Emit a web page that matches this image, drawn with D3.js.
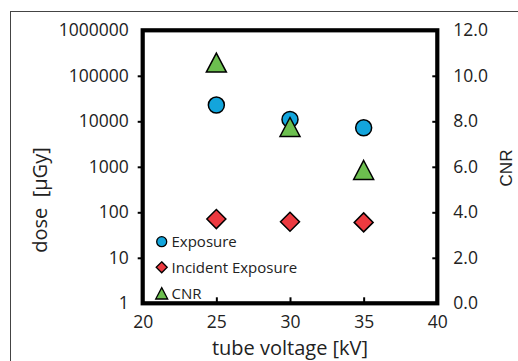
<!DOCTYPE html>
<html><head><meta charset="utf-8">
<script src="https://cdn.jsdelivr.net/npm/d3@7"></script>
<style>
body{margin:0;background:#fff;}
svg{display:block;font-family:"Open Sans",sans-serif;}
</style></head>
<body><svg id="c" width="518" height="361"></svg>
<script>
const voltages = [25, 30, 35];
const exposure = [22800, 11000, 7200];
const incident = [71, 62, 60];
const cnr = [10.58, 7.75, 5.86];
const xTicks = [20, 25, 30, 35, 40];
const doseTicks = [1, 10, 100, 1000, 10000, 100000, 1000000];
const cnrTicks = [0, 2, 4, 6, 8, 10, 12];
const legendLabels = ["Exposure", "Incident Exposure", "CNR"];

const svg = d3.select("#c");
const L = 142.7, R = 437.3, T = 30.3, B = 303.3;
const x = d3.scaleLinear().domain([20, 40]).range([L, R]);
const yL = d3.scaleLog().domain([1, 1000000]).range([B, T]);
const yR = d3.scaleLinear().domain([0, 12]).range([B, T]);

// outer frame
svg.append("rect").attr("x", 10.5).attr("y", 11.5).attr("width", 540).attr("height", 400)
  .attr("fill", "none").attr("stroke", "#444").attr("stroke-width", 1);

const fs = 17.5;
const gL = svg.append("g").attr("transform", `translate(${L},0)`)
  .call(d3.axisLeft(yL).tickValues(doseTicks).tickFormat(d3.format("d")).tickSize(5).tickPadding(9));
const gR = svg.append("g").attr("transform", `translate(${R},0)`)
  .call(d3.axisRight(yR).tickValues(cnrTicks).tickFormat(d3.format(".1f")).tickSize(-5).tickPadding(16));
const gB = svg.append("g").attr("transform", `translate(0,${B})`)
  .call(d3.axisBottom(x).tickValues(xTicks).tickFormat(d3.format("d")).tickSize(-6).tickPadding(12));

[gL, gR, gB].forEach(g => {
  g.select(".domain").remove();
  g.selectAll(".tick line").attr("stroke", "#000").attr("stroke-width", 2);
  g.selectAll(".tick text").attr("font-size", fs).attr("fill", "#222").attr("font-family", '"Open Sans",sans-serif');
});
gB.selectAll(".tick line").filter(d => d === 20 || d === 40).remove();
gL.selectAll(".tick line").filter(d => d === 1 || d === 1000000).remove();
gR.selectAll(".tick line").filter(d => d === 0 || d === 12).remove();

svg.append("rect").attr("x", L).attr("y", T).attr("width", R - L).attr("height", B - T)
  .attr("fill", "none").attr("stroke", "#000").attr("stroke-width", 4.2);

svg.append("text").attr("transform", `translate(47,200) rotate(-90)`).attr("text-anchor", "middle")
  .attr("font-size", 20).attr("fill", "#222").attr("xml:space", "preserve").text("dose  [µGy]");
svg.append("text").attr("x", 290).attr("y", 355).attr("text-anchor", "middle")
  .attr("font-size", 20).attr("fill", "#222").text("tube voltage [kV]");
svg.append("text").attr("transform", `translate(512,168) rotate(-90)`).attr("text-anchor", "middle")
  .attr("font-size", 17).attr("fill", "#222").attr("font-family", '"Liberation Sans",Arial,sans-serif').text("CNR");

const diamond = { draw(ctx, size) { const s = Math.sqrt(size) / 2; ctx.moveTo(0, -s); ctx.lineTo(s, 0); ctx.lineTo(0, s); ctx.lineTo(-s, 0); ctx.closePath(); } };
const tri = { draw(ctx, size) { const w = Math.sqrt(size), h = w * 0.95; ctx.moveTo(0, -h / 2); ctx.lineTo(w / 2, h / 2); ctx.lineTo(-w / 2, h / 2); ctx.closePath(); } };
const circ = { draw(ctx, size) { const r = Math.sqrt(size) / 2; ctx.moveTo(r, 0); ctx.arc(0, 0, r, 0, 2 * Math.PI); } };

const colors = { exp: "#13a5dc", inc: "#ec3a40", cnr: "#6cbf4f" };

function plot(vals, scale, type, size, color) {
  svg.append("g").selectAll("path").data(vals).join("path")
    .attr("transform", (d, i) => `translate(${x(voltages[i])},${scale(d)})`)
    .attr("d", d3.symbol().type(type).size(size))
    .attr("fill", color).attr("stroke", "#000").attr("stroke-width", 1.5);
}
plot(exposure, yL, circ, 16 * 16, colors.exp);
plot(incident, yL, diamond, 19 * 19, colors.inc);
plot(cnr, yR, tri, 20 * 20, colors.cnr);

const legY = [241.7, 267.3, 293.3];
const legTypes = [circ, diamond, tri];
const legSizes = [10 * 10, 11 * 11, 12 * 12];
const legColors = [colors.exp, colors.inc, colors.cnr];
legendLabels.forEach((lab, i) => {
  svg.append("path").attr("transform", `translate(161.7,${legY[i]})`)
    .attr("d", d3.symbol().type(legTypes[i]).size(legSizes[i]))
    .attr("fill", legColors[i]).attr("stroke", "#000").attr("stroke-width", 1.3);
  svg.append("text").attr("x", 171.5).attr("y", legY[i] + 5.3).attr("font-size", 15)
    .attr("fill", "#222").text(lab);
});
</script></body></html>
